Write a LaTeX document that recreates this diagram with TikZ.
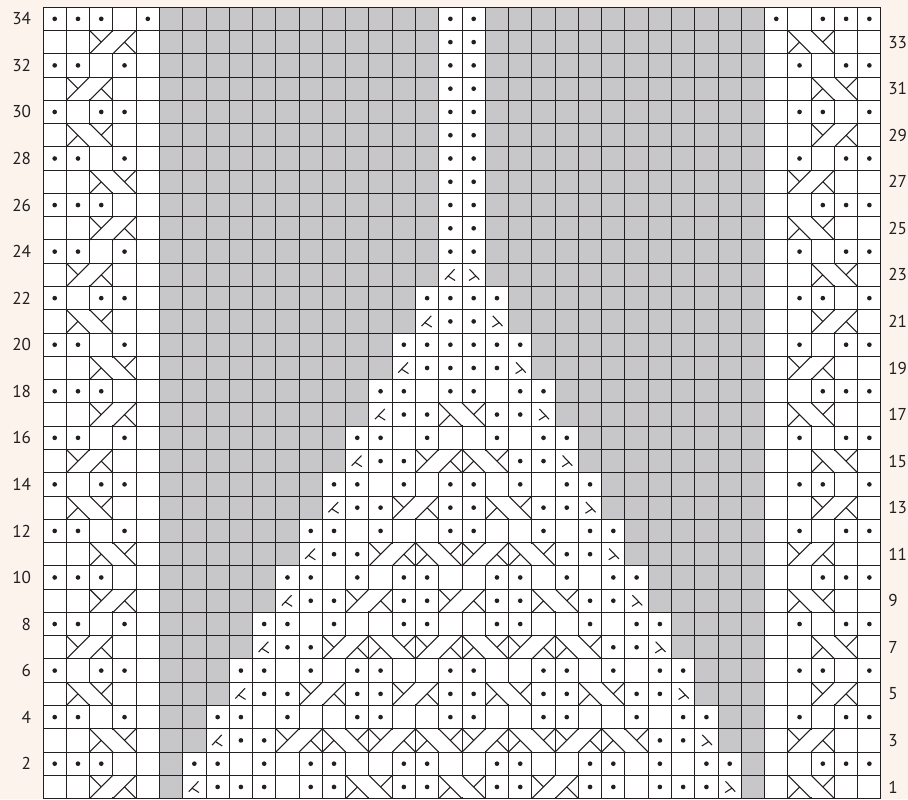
\documentclass[tikz,border=0pt]{standalone}
\usepackage{fontspec}
\setmainfont{PT Sans}
\usetikzlibrary{positioning}

\definecolor{chartbg}{RGB}{252,244,236}
\definecolor{nostitch}{RGB}{199,199,201}
\definecolor{chartline}{RGB}{35,31,32}

\tikzset{
  cgrid/.style={draw=chartline, line width=0.6pt},
  cstroke/.style={draw=chartline, line width=0.65pt},
  cfill/.style={fill=white},
  rownum/.style={font=\fontsize{10.5}{12}\selectfont, text=chartline, inner sep=0pt}
}

% purl dot: column #1, row #2
\newcommand{\pdot}[2]{\fill[chartline] ({#1-0.5},{#2-0.5}) circle (0.1);}
% 2-stitch cable, band leaning right: left column #1, row #2
\newcommand{\cabR}[2]{%
  \fill[cfill] ({#1-0.95},{#2-0.95}) rectangle ({#1+0.95},{#2-0.05});
  \draw[cgrid] ({#1-1},{#2-1}) rectangle ({#1+1},{#2});
  \draw[cstroke] ({#1-1},{#2-1}) -- ({#1},{#2}) ({#1},{#2-1}) -- ({#1+1},{#2})
    ({#1-1},{#2}) -- ({#1-0.5},{#2-0.5}) ({#1+1},{#2-1}) -- ({#1+0.5},{#2-0.5});}
% 2-stitch cable, band leaning left
\newcommand{\cabL}[2]{%
  \fill[cfill] ({#1-0.95},{#2-0.95}) rectangle ({#1+0.95},{#2-0.05});
  \draw[cgrid] ({#1-1},{#2-1}) rectangle ({#1+1},{#2});
  \draw[cstroke] ({#1-1},{#2}) -- ({#1},{#2-1}) ({#1},{#2}) -- ({#1+1},{#2-1})
    ({#1-1},{#2-1}) -- ({#1-0.5},{#2-0.5}) ({#1+1},{#2}) -- ({#1+0.5},{#2-0.5});}
% decreases
\newcommand{\decL}[2]{%
  \draw[cstroke] ({#1-0.74},{#2-0.7}) -- ({#1-0.32},{#2-0.26})
    ({#1-0.6},{#2-0.55}) -- ({#1-0.3},{#2-0.74});}
\newcommand{\decR}[2]{%
  \draw[cstroke] ({#1-0.26},{#2-0.7}) -- ({#1-0.68},{#2-0.26})
    ({#1-0.4},{#2-0.55}) -- ({#1-0.7},{#2-0.74});}

\begin{document}
\begin{tikzpicture}[x=0.5cm,y=0.5cm]
\useasboundingbox (-1.85,-0.03) rectangle (37.16,34.31);
\fill[chartbg] (-1.85,-0.03) rectangle (37.16,34.31);
\fill[white] (0,0) rectangle (36,34);

% no-stitch area
\foreach \r in {1,...,34} {
  \pgfmathtruncatemacro{\a}{\r<23 ? 7+floor((\r-1)/2) : 18}
  \fill[nostitch] (5,\r-1) rectangle (\a-1,\r);
  \fill[nostitch] (37-\a,\r-1) rectangle (31,\r);
}
\draw[cgrid, step=1] (0,0) grid (36,34);

% side panels
\foreach \r/\k in {2/4,4/3,6/2,8/3,10/4,12/3,14/2,16/3,18/4,20/3,22/2,24/3,26/4,28/3,30/2,32/3,34/4}
  \foreach \c in {1,...,4} {
    \ifnum\c=\k\relax\else \pdot{\c}{\r}\pdot{37-\c}{\r}\fi
  }
\pdot{5}{34}\pdot{32}{34}
\foreach \r/\c in {1/3,7/2,9/3,15/2,17/3,23/2,25/3,31/2,33/3} {\cabR{\c}{\r}\cabL{36-\c}{\r}}
\foreach \r/\c in {3/3,5/2,11/3,13/2,19/3,21/2,27/3,29/2} {\cabL{\c}{\r}\cabR{36-\c}{\r}}

% centre panel
\foreach \r in {24,...,34} {\pdot{18}{\r}\pdot{19}{\r}}
\foreach \r/\cs in {1/{8,9,10,12,13,16,17},2/{7,8,10,12,13,16,17},3/{9,10},4/{8,9,11,14,15,18},
    5/{10,11,14,15,18},6/{9,10,12,14,15,18},7/{11,12},8/{10,11,13,16,17},9/{12,13,16,17},
    10/{11,12,14,16,17},11/{13,14},12/{12,13,15,18},13/{14,15,18},14/{13,14,16,18},
    15/{15,16},16/{14,15,17},17/{16,17},18/{15,16,18},19/{17,18},20/{16,17,18},21/{18},22/{17,18}}
  \foreach \c in \cs {\pdot{\c}{\r}\pdot{37-\c}{\r}}
\foreach \r/\c in {3/11,3/15,5/12,5/16,7/13,7/17,9/14,11/15,13/16,15/17} {\cabR{\c}{\r}\cabL{36-\c}{\r}}
\foreach \r/\c in {1/14,3/13,3/17,7/15,11/17} {\cabL{\c}{\r}\cabR{36-\c}{\r}}
\cabL{18}{1}
\cabR{18}{9}
\cabL{18}{17}
\foreach \r in {1,3,...,23} {
  \pgfmathtruncatemacro{\a}{7+(\r-1)/2}
  \decL{\a}{\r}\decR{37-\a}{\r}
}

% row numbers
\foreach \r in {2,4,...,34} \node[rownum, anchor=east] (ev\r) at (-0.5,\r-0.5) {\r};
\foreach \r in {1,3,...,33} \node[rownum, anchor=west] (od\r) at (36.3,\r-0.5) {\r};
\end{tikzpicture}
\end{document}
